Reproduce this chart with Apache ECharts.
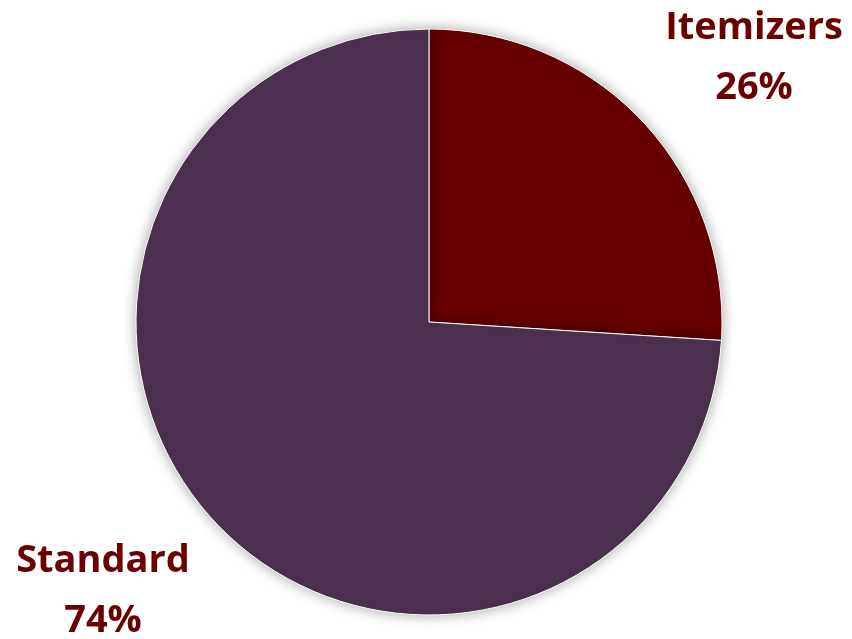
<!DOCTYPE html>
<html><head><meta charset="utf-8">
<script src="https://cdn.jsdelivr.net/npm/echarts@6/dist/echarts.min.js"></script>
<style>html,body{margin:0;padding:0;background:#fff}#c{width:852px;height:639px}</style>
</head><body><div id="c"></div>
<script>
const categories = ['Itemizers', 'Standard'];
const values = [26, 74];
const colors = ['#670000', '#4d3150'];
const labelPos = [[754, 58], [103, 591]];

const chart = echarts.init(document.getElementById('c'));
chart.setOption({
  animation: false,
  series: [{
    type: 'pie',
    center: [429, 322],
    radius: [0, 293],
    startAngle: 90,
    clockwise: true,
    data: categories.map((n, i) => ({name: n, value: values[i], itemStyle: {color: colors[i]}})),
    itemStyle: {borderColor: '#fff', borderWidth: 1, shadowBlur: 14, shadowColor: 'rgba(0,0,0,0.35)'},
    label: {
      show: true,
      position: 'outside',
      formatter: p => p.name + '\n' + Math.round(p.percent) + '%',
      fontFamily: 'Open Sans',
      fontWeight: 'bold',
      fontSize: 38,
      lineHeight: 60,
      color: '#6b0000',
      align: 'center',
      overflow: 'none',
      width: 300
    },
    labelLine: {show: false},
    labelLayout: params => {
      const pos = labelPos[params.dataIndex];
      return {x: pos[0], y: pos[1], align: 'center', verticalAlign: 'middle'};
    }
  }]
});
</script></body></html>
